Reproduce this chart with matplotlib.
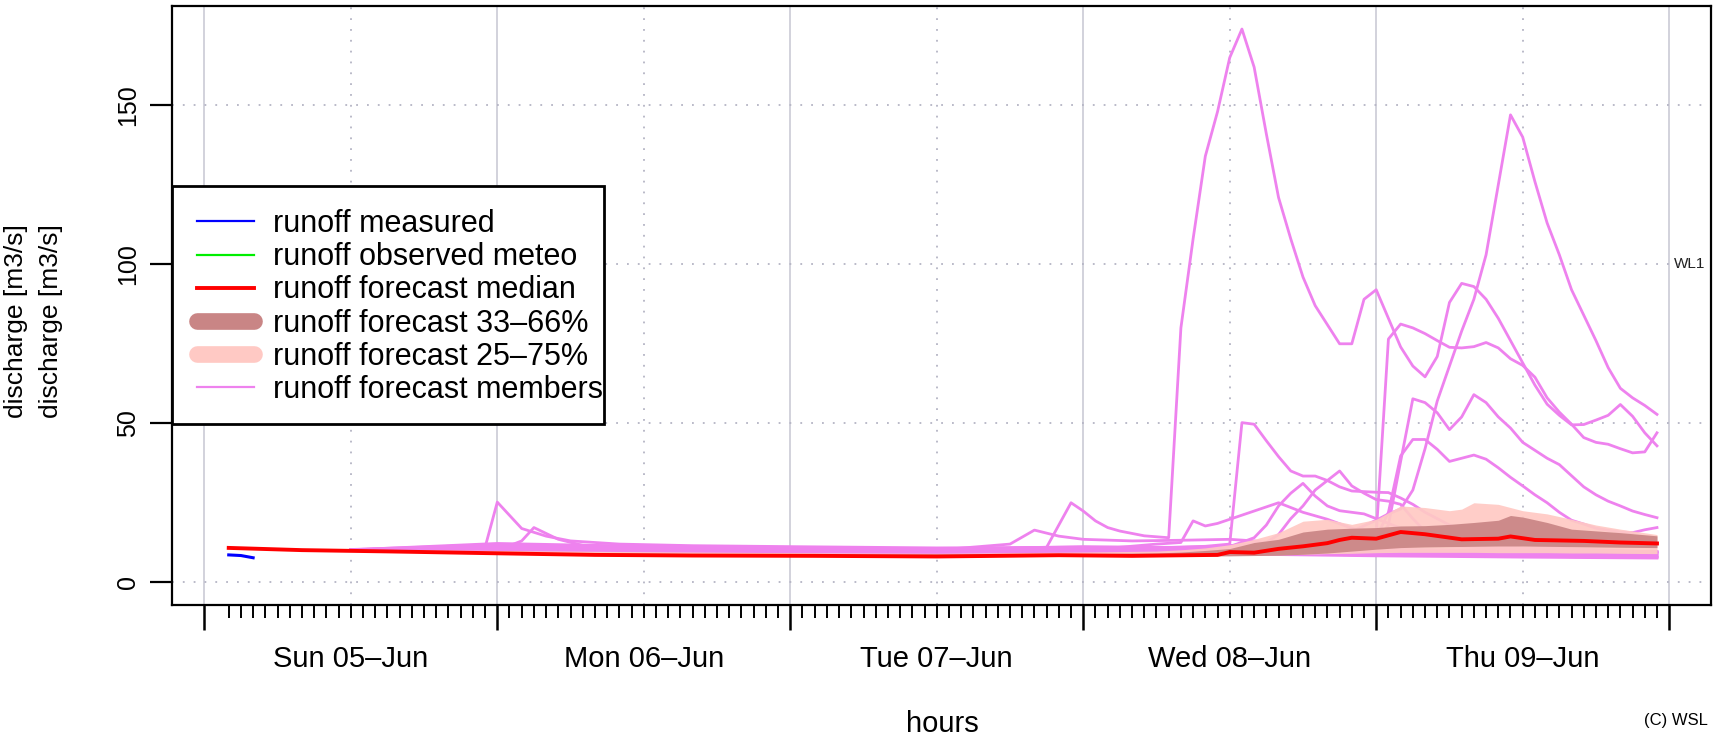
import matplotlib
matplotlib.use("Agg")
import matplotlib.pyplot as plt
from matplotlib.lines import Line2D
from matplotlib.patches import Rectangle

plt.rcParams['font.family'] = ['Liberation Sans', 'DejaVu Sans']

# -----------------------------
# DATA (hours since Sun 05-Jun 00:00)
# -----------------------------
day_labels = ["Sun 05\u2013Jun", "Mon 06\u2013Jun", "Tue 07\u2013Jun", "Wed 08\u2013Jun", "Thu 09\u2013Jun"]

measured_hours = [2, 3, 4]
measured_values = [8.6, 8.4, 7.7]

median_hours = [2, 8, 15, 24, 32, 40, 50, 60, 70, 76, 83, 84, 86, 88, 90, 92, 93, 94, 96, 98,
                100, 103, 106, 107, 109, 113, 116, 119]
median_values = [10.8, 10.1, 9.7, 9.1, 8.6, 8.4, 8.3, 8.1, 8.5, 8.3, 8.6, 9.5, 9.3, 10.5, 11.3, 12.3,
                 13.3, 14.0, 13.7, 15.8, 15.1, 13.5, 13.7, 14.4, 13.3, 13.0, 12.5, 12.2]

# 25-75% band
q25_hours = [2, 14, 24, 36, 48, 60, 72, 78, 80, 82, 84, 86, 88, 90, 92, 94, 96, 98, 100, 102,
             103, 104, 106, 108, 110, 112, 114, 116, 119]
q25_upper = [10.9, 10.3, 10.0, 9.6, 9.3, 9.1, 9.5, 9.8, 10.2, 10.8, 11.8, 13.5, 15.6, 19.2, 19.8,
             18.2, 19.8, 24.0, 23.5, 22.5, 23.0, 25.0, 24.5, 22.5, 21.5, 19.8, 18.0, 16.7, 15.0]
q25_lower = [10.6, 9.6, 9.0, 8.6, 8.3, 8.1, 8.2, 8.2, 8.2, 8.3, 8.4, 8.5, 8.6, 8.8, 9.0, 9.1, 9.3,
             9.4, 9.4, 9.4, 9.4, 9.4, 9.3, 9.3, 9.3, 9.2, 9.2, 9.1, 9.0]

# 33-66% band
q33_hours = [2, 24, 48, 72, 78, 80, 82, 84, 86, 88, 90, 92, 94, 96, 98, 100, 102, 104, 106, 107,
             108, 110, 112, 116, 119]
q33_upper = [10.8, 9.5, 8.8, 9.0, 9.2, 9.5, 10.0, 10.6, 12.5, 13.5, 15.8, 16.7, 17.0, 17.2, 17.7,
             17.8, 18.2, 18.8, 19.5, 21.0, 20.5, 18.8, 16.7, 15.6, 14.6]
q33_lower = [10.7, 9.0, 8.4, 8.4, 8.3, 8.3, 8.3, 8.3, 8.4, 8.5, 8.8, 9.2, 9.8, 10.4, 10.9, 11.1,
             11.2, 11.3, 11.4, 11.4, 11.4, 11.3, 11.2, 11.0, 10.9]

# ensemble members: (hour, discharge)
member_a = [(12, 10.2), (24, 11.2), (36, 10.8), (48, 10.5), (60, 10.2), (66, 10.6), (69, 11.0),
            (71, 25.0), (72, 22.4), (73, 19.3), (74, 17.2), (75, 16.1), (77, 14.6), (79, 14.0),
            (80, 80), (81, 108), (82, 134), (83, 148), (84, 165), (85, 174), (86, 162), (87, 141),
            (88, 121), (89, 108), (90, 96), (91, 87), (92, 81), (93, 75), (94, 75), (95, 89),
            (96, 92), (97, 83), (98, 74), (99, 68), (100, 64.6), (101, 71), (102, 88), (103, 94),
            (104, 93), (105, 89), (106, 83), (107, 76), (108, 69), (109, 62), (110, 56), (111, 52.5),
            (112, 49.5), (113, 49.6), (114, 51.0), (115, 52.5), (116, 55.9), (117, 52.2),
            (118, 47.0), (119, 42.9)]
member_b = [(12, 10.0), (24, 10.8), (36, 10.4), (48, 10.0), (60, 9.8), (72, 10.2), (80, 10.6),
            (84, 11.5), (88, 13.0), (92, 15.5), (95, 16.5), (96, 15.0), (97, 76.5), (98, 81.2),
            (99, 80.0), (100, 78.2), (101, 76.0), (102, 73.9), (103, 73.7), (104, 74.1), (105, 75.4),
            (106, 73.7), (107, 70.3), (108, 68.2), (109, 64.5), (110, 58.0), (111, 53.5), (112, 49.7),
            (113, 45.5), (114, 44.0), (115, 43.4), (116, 42.0), (117, 40.7), (118, 41.0), (119, 47.0)]
member_c = [(12, 10.1), (24, 10.5), (36, 10.2), (48, 9.9), (60, 9.7), (72, 9.9), (80, 10.2),
            (86, 11.5), (90, 13.0), (94, 16.0), (96, 19.5), (97, 21.5), (98, 23.0), (99, 29.0),
            (100, 42.0), (101, 57.0), (102, 68.0), (103, 79.0), (104, 89.0), (105, 103.0),
            (106, 125.0), (107, 147.0), (108, 140.0), (109, 126.0), (110, 113.0), (111, 103.0),
            (112, 92.0), (113, 84.0), (114, 76.0), (115, 67.5), (116, 61.0), (117, 58.0),
            (118, 55.6), (119, 52.8)]
member_e = [(12, 10.0), (24, 10.6), (36, 10.3), (48, 10.1), (60, 9.9), (72, 10.4), (78, 10.8),
            (82, 11.3), (84, 12.0), (85, 50.2), (86, 49.7), (87, 44.5), (88, 39.5), (89, 35.0),
            (90, 33.4), (91, 33.4), (92, 32.0), (93, 30.0), (94, 28.7), (96, 28.3), (97, 28.2),
            (98, 26.5), (99, 24.5), (100, 22.0), (102, 18.0), (104, 15.0), (108, 12.0), (112, 10.5),
            (119, 9.5)]
member_f = [(12, 10.3), (24, 11.8), (36, 11.0), (48, 10.6), (60, 10.3), (72, 10.8), (80, 11.0),
            (86, 11.5), (92, 12.0), (96, 12.5), (97, 18.0), (98, 38.0), (99, 57.7), (100, 56.5),
            (101, 53.3), (102, 48.0), (103, 52.0), (104, 59.0), (105, 56.5), (106, 52.0), (107, 48.5),
            (108, 44.0), (109, 41.5), (110, 39.0), (111, 37.0), (112, 33.5), (113, 30.0), (114, 27.5),
            (115, 25.5), (116, 24.0), (117, 22.4), (118, 21.3), (119, 20.3)]
member_g = [(12, 10.1), (24, 11.4), (36, 10.7), (48, 10.3), (60, 10.0), (72, 10.5), (80, 10.8),
            (88, 11.5), (94, 12.5), (96, 14.0), (97, 22.0), (98, 39.7), (99, 44.9), (100, 44.9),
            (101, 41.8), (102, 38.0), (103, 39.0), (104, 40.0), (105, 38.7), (106, 36.0), (107, 33.0),
            (108, 30.3), (109, 27.5), (110, 25.0), (111, 22.0), (112, 19.5), (113, 18.3), (114, 17.0),
            (115, 16.3), (116, 15.8), (117, 15.6), (118, 16.5), (119, 17.2)]
member_h = [(12, 10.0), (24, 10.4), (36, 10.1), (48, 9.8), (60, 9.6), (72, 10.0), (78, 12.0),
            (80, 12.5), (81, 19.3), (82, 17.7), (83, 18.5), (84, 19.8), (86, 22.4), (88, 25.0),
            (89, 23.5), (90, 22.0), (92, 19.8), (94, 17.0), (96, 15.0), (100, 12.0), (106, 10.5),
            (119, 9.5)]
member_i = [(12, 10.0), (24, 10.9), (36, 10.5), (48, 10.2), (60, 10.0), (72, 10.3), (80, 10.6),
            (84, 11.2), (86, 14.0), (87, 18.0), (88, 24.0), (89, 28.0), (90, 31.1), (91, 27.1),
            (92, 24.0), (93, 22.5), (94, 22.0), (95, 21.5), (96, 20.0), (98, 17.0), (100, 15.0),
            (104, 12.0), (110, 10.0), (119, 9.0)]
member_j = [(12, 10.2), (24, 11.0), (36, 10.6), (48, 10.3), (60, 10.1), (66, 12.0), (68, 16.4),
            (70, 14.5), (72, 13.5), (76, 13.0), (80, 13.2), (84, 13.5), (86, 13.0), (87, 12.5),
            (88, 15.0), (89, 20.0), (90, 24.0), (91, 29.0), (92, 32.0), (93, 35.0), (94, 30.3),
            (95, 28.0), (96, 26.0), (97, 25.5), (98, 24.5), (99, 20.0), (100, 16.0), (102, 13.0),
            (106, 11.0), (119, 9.5)]
member_k = [(12, 10.2), (18, 10.8), (23, 11.0), (24, 25.2), (26, 16.9), (28, 14.5), (30, 13.0),
            (34, 12.0), (40, 11.5), (48, 11.2), (60, 10.8), (72, 11.0), (80, 10.5), (90, 10.0),
            (100, 9.4), (110, 8.8), (119, 8.4)]
member_k2 = [(12, 10.1), (20, 10.8), (25, 11.5), (26, 13.0), (27, 17.2), (29, 13.5), (31, 11.6),
             (36, 11.2), (48, 10.8), (60, 10.5), (72, 10.7), (80, 10.3), (90, 9.8), (100, 9.2),
             (110, 8.6), (119, 8.0)]
member_l1 = [(12, 10.0), (24, 10.2), (36, 9.9), (48, 9.6), (60, 9.4), (72, 9.6), (84, 9.4),
             (96, 9.0), (108, 8.5), (119, 8.1)]
member_l2 = [(12, 10.1), (24, 11.0), (36, 10.6), (48, 10.2), (60, 9.9), (72, 10.3), (84, 10.2),
             (96, 9.8), (108, 9.3), (119, 9.0)]
member_l3 = [(12, 10.0), (24, 10.5), (36, 10.0), (48, 9.7), (60, 9.5), (72, 9.8), (84, 8.9),
             (96, 8.3), (108, 7.9), (119, 7.6)]
member_l4 = [(12, 10.2), (24, 12.2), (36, 11.3), (48, 10.8), (60, 10.4), (72, 11.2), (84, 10.8),
             (96, 10.4), (108, 10.0), (119, 9.6)]
member_l5 = [(12, 10.0), (24, 10.0), (36, 9.7), (48, 9.4), (60, 9.2), (72, 9.3), (84, 9.0),
             (96, 8.6), (108, 8.2), (119, 7.8)]

members = [member_l1, member_l2, member_l3, member_l4, member_l5, member_k, member_k2,
           member_h, member_i, member_j, member_e, member_g, member_f, member_c, member_b, member_a]

# -----------------------------
# FIGURE
# -----------------------------
W, H = 1714, 740
fig = plt.figure(figsize=(W / 100, H / 100), dpi=100)
ax = fig.add_axes([171.6 / W, 1 - 604.5 / H, (1710.7 - 171.6) / W, (604.5 - 5.5) / H])
ax.set_xlim(-2.68, 123.4)
ax.set_ylim(-7.0, 181.4)

# grid
for d in range(6):
    ax.axvline(d * 24, color='#D2D2DC', lw=1.4, zorder=0)
for d in range(5):
    ax.axvline(d * 24 + 12, color='#B4B4C4', lw=1.3, ls=(0, (1, 5)), zorder=0)
for yv in [0, 50, 100, 150]:
    ax.axhline(yv, color='#B4B4C4', lw=1.3, ls=(0, (1, 5)), zorder=0)

# members
for m in members:
    hrs = [p[0] for p in m]
    vals = [p[1] for p in m]
    ax.plot(hrs, vals, color='violet', lw=2.0, zorder=2)

ax.fill_between(q25_hours, q25_lower, q25_upper, color='#FFC9C4', lw=0, alpha=0.92, zorder=3)
ax.fill_between(q33_hours, q33_lower, q33_upper, color='#C98585', lw=0, alpha=0.92, zorder=3.1)
ax.plot(median_hours, median_values, color='red', lw=2.8, zorder=4)
ax.plot(measured_hours, measured_values, color='blue', lw=2.2, zorder=4)

# axes / ticks
for s in ax.spines.values():
    s.set_linewidth(1.6)
ax.set_yticks([0, 50, 100, 150])
ax.set_yticklabels(["0", "50", "100", "150"], rotation=90, va='center', fontsize=18)
ax.tick_params(axis='y', direction='out', length=16, width=1.6, pad=7)
ax.set_xticks([d * 24 for d in range(6)])
ax.set_xticklabels([])
ax.set_xticks([h for h in range(2, 120) if h % 24 != 0], minor=True)
ax.tick_params(axis='x', which='major', direction='out', length=18, width=1.8)
ax.tick_params(axis='x', which='minor', direction='out', length=9, width=1.4)

for i, lab in enumerate(day_labels):
    ax.text(i * 24 + 12, -0.091, lab, transform=ax.get_xaxis_transform(),
            ha='center', va='center', fontsize=21)

ax.text(120.4, 100, "WL1", ha='left', va='center', fontsize=11, color='#222222')

fig.text(16.4 / W, 1 - 321 / H, "discharge [m3/s]", rotation=90, ha='center', va='center', fontsize=19)
fig.text(51.4 / W, 1 - 321 / H, "discharge [m3/s]", rotation=90, ha='center', va='center', fontsize=19)
fig.text(942 / W, 1 - 724 / H, "hours", ha='center', va='center', fontsize=21)
fig.text(1676 / W, 1 - 721 / H, "(C) WSL", ha='center', va='center', fontsize=12)

# legend
frame = Rectangle((171.6 / W, 1 - 424 / H), (604 - 171.6) / W, (424 - 186) / H,
                  transform=fig.transFigure, facecolor='white', edgecolor='black',
                  lw=2, zorder=4.9, clip_on=False)
ax.add_patch(frame)
handles = [
    Line2D([], [], color='blue', lw=1.6),
    Line2D([], [], color='#00EE00', lw=1.6),
    Line2D([], [], color='red', lw=2.8),
    Line2D([], [], color='#C98585', lw=12, solid_capstyle='round'),
    Line2D([], [], color='#FFC9C4', lw=12, solid_capstyle='round'),
    Line2D([], [], color='violet', lw=1.6),
]
labels = ["runoff measured", "runoff observed meteo", "runoff forecast median",
          "runoff forecast 33\u201366%", "runoff forecast 25\u201375%", "runoff forecast members"]
leg = ax.legend(handles, labels, loc='upper left', bbox_to_anchor=(197 / W, 1 - 209 / H),
                bbox_transform=fig.transFigure, frameon=False, fontsize=22, borderpad=0,
                borderaxespad=0, handlelength=1.87, handletextpad=0.62, labelspacing=0.105)
leg.set_zorder(5)

fig.savefig("out.png", dpi=100)
